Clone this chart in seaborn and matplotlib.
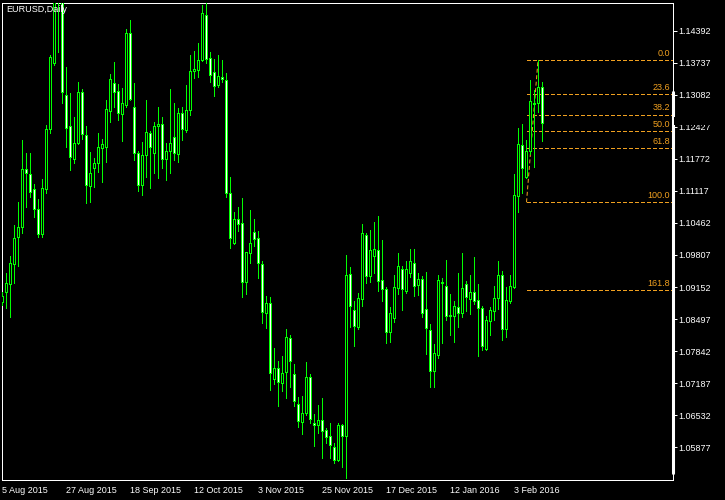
import matplotlib
matplotlib.use("Agg")
import matplotlib.pyplot as plt
import seaborn as sns
from matplotlib.patches import Rectangle
from matplotlib.lines import Line2D

# EURUSD daily bars, 5 Aug 2015 .. 12 Feb 2016
opens = [1.0885, 1.0905, 1.0921, 1.0962, 1.1017, 1.1038, 1.1156, 1.1146, 1.1116, 1.1075,
         1.1024, 1.1116, 1.1238, 1.1373, 1.1615, 1.1518, 1.1308, 1.1244, 1.1177, 1.1210,
         1.1314, 1.1226, 1.1122, 1.1159, 1.1169, 1.1199, 1.1201, 1.1275, 1.1332, 1.1316,
         1.1269, 1.1287, 1.1434, 1.1283, 1.1189, 1.1124, 1.1185, 1.1230, 1.1189, 1.1244,
         1.1248, 1.1177, 1.1193, 1.1222, 1.1187, 1.1271, 1.1236, 1.1277, 1.1357, 1.1359,
         1.1379, 1.1471, 1.1383, 1.1355, 1.1328, 1.1344, 1.1338, 1.1107, 1.1005, 1.1054,
         1.1046, 1.0926, 1.0985, 1.1028, 1.1015, 1.0962, 1.0862, 1.0883, 1.0727, 1.0750,
         1.0719, 1.0742, 1.0811, 1.0738, 1.0676, 1.0639, 1.0658, 1.0731, 1.0637, 1.0633,
         1.0643, 1.0623, 1.0611, 1.0588, 1.0562, 1.0633, 1.0611, 1.0942, 1.0868, 1.0833,
         1.0891, 1.1022, 1.0938, 1.0979, 1.0991, 1.0930, 1.0911, 1.0823, 1.0852, 1.0913,
         1.0952, 1.0907, 1.0944, 1.0964, 1.0919, 1.0932, 1.0870, 1.0827, 1.0744, 1.0776,
         1.0923, 1.0917, 1.0858, 1.0856, 1.0874, 1.0862, 1.0921, 1.0891, 1.0905, 1.0889,
         1.0872, 1.0789, 1.0846, 1.0866, 1.0893, 1.0940, 1.0829, 1.0887, 1.0915, 1.1101,
         1.1205, 1.1140, 1.1193, 1.1291, 1.1291, 1.1324]
highs = [1.0905, 1.0944, 1.0979, 1.1042, 1.1089, 1.1216, 1.1189, 1.1189, 1.1126, 1.1095,
         1.1136, 1.1246, 1.1389, 1.1714, 1.1640, 1.1555, 1.1365, 1.1312, 1.1263, 1.1334,
         1.1320, 1.1244, 1.1191, 1.1179, 1.1230, 1.1218, 1.1297, 1.1351, 1.1375, 1.1330,
         1.1322, 1.1443, 1.1461, 1.1332, 1.1193, 1.1212, 1.1297, 1.1234, 1.1253, 1.1283,
         1.1263, 1.1210, 1.1320, 1.1291, 1.1281, 1.1283, 1.1328, 1.1389, 1.1398, 1.1414,
         1.1492, 1.1496, 1.1396, 1.1381, 1.1389, 1.1379, 1.1353, 1.1140, 1.1069, 1.1079,
         1.1097, 1.0987, 1.1073, 1.1054, 1.1030, 1.0968, 1.0897, 1.0895, 1.0791, 1.0764,
         1.0774, 1.0829, 1.0817, 1.0758, 1.0690, 1.0693, 1.0762, 1.0738, 1.0656, 1.0674,
         1.0688, 1.0627, 1.0637, 1.0596, 1.0637, 1.0635, 1.0981, 1.0956, 1.0887, 1.0903,
         1.1044, 1.1026, 1.1032, 1.1048, 1.1060, 1.1011, 1.0915, 1.0874, 1.0940, 1.0985,
         1.0958, 1.0968, 1.0993, 1.0993, 1.0944, 1.0938, 1.0946, 1.0840, 1.0799, 1.0940,
         1.0934, 1.0970, 1.0901, 1.0887, 1.0944, 1.0985, 1.0928, 1.0940, 1.0977, 1.0921,
         1.0876, 1.0856, 1.0874, 1.0917, 1.0968, 1.0948, 1.0915, 1.0940, 1.1146, 1.1240,
         1.1248, 1.1216, 1.1338, 1.1318, 1.1379, 1.1334]
lows = [1.0878, 1.0872, 1.0854, 1.0923, 1.0958, 1.1026, 1.1079, 1.1099, 1.1058, 1.1017,
        1.1017, 1.1107, 1.1230, 1.1369, 1.1396, 1.1291, 1.1201, 1.1154, 1.1169, 1.1208,
        1.1218, 1.1087, 1.1089, 1.1120, 1.1150, 1.1130, 1.1171, 1.1253, 1.1283, 1.1257,
        1.1214, 1.1283, 1.1297, 1.1175, 1.1111, 1.1103, 1.1140, 1.1118, 1.1148, 1.1138,
        1.1159, 1.1134, 1.1148, 1.1175, 1.1171, 1.1216, 1.1232, 1.1267, 1.1342, 1.1344,
        1.1377, 1.1373, 1.1334, 1.1306, 1.1324, 1.1334, 1.1099, 1.0995, 1.1003, 1.1030,
        1.0895, 1.0901, 1.0964, 1.0999, 1.0934, 1.0841, 1.0831, 1.0705, 1.0717, 1.0672,
        1.0703, 1.0688, 1.0711, 1.0672, 1.0629, 1.0615, 1.0654, 1.0637, 1.0590, 1.0617,
        1.0566, 1.0596, 1.0566, 1.0556, 1.0560, 1.0547, 1.0524, 1.0833, 1.0795, 1.0829,
        1.0876, 1.0923, 1.0926, 1.0944, 1.0907, 1.0887, 1.0801, 1.0803, 1.0844, 1.0901,
        1.0868, 1.0903, 1.0936, 1.0897, 1.0899, 1.0854, 1.0778, 1.0711, 1.0711, 1.0770,
        1.0801, 1.0848, 1.0817, 1.0803, 1.0833, 1.0854, 1.0866, 1.0860, 1.0880, 1.0774,
        1.0787, 1.0787, 1.0817, 1.0848, 1.0870, 1.0807, 1.0813, 1.0883, 1.0913, 1.1069,
        1.1107, 1.1138, 1.1187, 1.1161, 1.1273, 1.1214]
closes = [1.0897, 1.0923, 1.0964, 1.1015, 1.1038, 1.1156, 1.1148, 1.1109, 1.1075, 1.1024,
          1.1118, 1.1238, 1.1385, 1.1615, 1.1520, 1.1314, 1.1240, 1.1181, 1.1210, 1.1314,
          1.1228, 1.1124, 1.1148, 1.1169, 1.1201, 1.1208, 1.1279, 1.1340, 1.1314, 1.1271,
          1.1291, 1.1434, 1.1299, 1.1189, 1.1124, 1.1185, 1.1232, 1.1201, 1.1244, 1.1248,
          1.1177, 1.1193, 1.1210, 1.1189, 1.1271, 1.1238, 1.1277, 1.1357, 1.1361, 1.1379,
          1.1475, 1.1381, 1.1349, 1.1326, 1.1347, 1.1340, 1.1107, 1.1015, 1.1054, 1.1044,
          1.0926, 1.0987, 1.1005, 1.1013, 1.0964, 1.0864, 1.0883, 1.0740, 1.0750, 1.0721,
          1.0740, 1.0813, 1.0764, 1.0682, 1.0641, 1.0658, 1.0731, 1.0645, 1.0633, 1.0643,
          1.0621, 1.0609, 1.0592, 1.0562, 1.0633, 1.0611, 1.0940, 1.0876, 1.0835, 1.0893,
          1.1026, 1.0938, 1.0991, 1.0993, 1.0928, 1.0911, 1.0823, 1.0862, 1.0915, 1.0958,
          1.0911, 1.0952, 1.0968, 1.0917, 1.0932, 1.0862, 1.0831, 1.0744, 1.0780, 1.0930,
          1.0926, 1.0856, 1.0856, 1.0876, 1.0862, 1.0913, 1.0895, 1.0905, 1.0887, 1.0872,
          1.0795, 1.0848, 1.0868, 1.0893, 1.0940, 1.0829, 1.0889, 1.0917, 1.1103, 1.1208,
          1.1159, 1.1193, 1.1295, 1.1289, 1.1324, 1.1250]

date_labels = ["5 Aug 2015", "27 Aug 2015", "18 Sep 2015", "12 Oct 2015", "3 Nov 2015",
               "25 Nov 2015", "17 Dec 2015", "12 Jan 2016", "3 Feb 2016"]
date_bars = [0, 16, 32, 48, 64, 80, 96, 112, 128]
price_ticks = [1.14392, 1.13737, 1.13082, 1.12427, 1.11772, 1.11117, 1.10462,
               1.09807, 1.09152, 1.08497, 1.07842, 1.07187, 1.06532, 1.05877]

# fibonacci retracement drawn from the late Jan low to the Feb high
fib_high = 1.13786
fib_low = 1.10884
fib_levels = [0.0, 23.6, 38.2, 50.0, 61.8, 100.0, 161.8]

GREEN = "#00FF00"
ORANGE = "#F0A020"
W, H = 725, 500
PPX = 0.00020437  # price per pixel on this chart

sns.set_theme(style="dark", rc={"axes.facecolor": "black", "figure.facecolor": "black"})
plt.rcParams["font.family"] = ["Liberation Sans", "DejaVu Sans"]

fig = plt.figure(figsize=(W / 100, H / 100), dpi=100)
left_px, right_px, top_px, bottom_px = 2.3, 672.5, 2.5, 479.5
ax = fig.add_axes([left_px / W, 1 - bottom_px / H, (right_px - left_px) / W, (bottom_px - top_px) / H])
ax.set_facecolor("black")

px = 0.72  # one pixel in points

# candles
for i in range(len(opens)):
    o, h, l, c = opens[i], highs[i], lows[i], closes[i]
    ax.vlines(i, l, h, color=GREEN, lw=px, zorder=3, antialiased=False)
    fill = "white" if c < o else "black"
    ax.add_patch(Rectangle((i - 0.25, min(o, c)), 0.5, abs(c - o), facecolor=fill,
                           edgecolor=GREEN, lw=px, zorder=4, antialiased=False))

# fibonacci
x_start = (526.5 - left_px) / 4
x_top = (538 - left_px) / 4
x_end = (right_px - left_px) / 4
ax.plot([x_start, x_top], [fib_low, fib_high], color=ORANGE, lw=px, ls=(0, (4, 2.5)), zorder=2)
rng = fib_high - fib_low
for lv in fib_levels:
    p = fib_high - lv / 100 * rng
    ax.plot([x_start, x_end], [p, p], color=ORANGE, lw=px, ls=(0, (4, 2.5)), zorder=2,
            antialiased=False, snap=True)
    ax.text((670 - left_px) / 4, p + 2.2 * PPX, f"{lv:.1f}", color=ORANGE,
            fontsize=6.5, ha="right", va="bottom", zorder=5)

ax.set_xlim(0, x_end)
ax.set_ylim(1.15018 - 479.5 * PPX, 1.15018 - 2.5 * PPX)

ax.yaxis.tick_right()
ax.set_yticks(price_ticks)
ax.set_yticklabels([f"{p:.5f}" for p in price_ticks])
ax.set_xticks(date_bars)
ax.set_xticklabels(date_labels, ha="left")
ax.tick_params(axis="y", colors="white", labelcolor="white", labelsize=6.5, length=3,
               width=px, pad=1.2, direction="out")
ax.tick_params(axis="x", colors="white", labelcolor="white", labelsize=6.5, length=3.5,
               width=px, pad=1.2, direction="out")
ax.grid(False)
for s in ax.spines.values():
    s.set_color("white")
    s.set_linewidth(px)
    s.set_visible(True)

fig.text(6.5 / W, 1 - 9.5 / H, "EURUSD,Daily", color="white", fontsize=6.5, ha="left", va="center")

# thick right border part and the hidden top of one price label
fig.add_artist(Line2D([672.5 / W, 672.5 / W], [1 - 92 / H, 1 - 473 / H], color="white", lw=2.2, zorder=6))
fig.add_artist(Rectangle((674 / W, 1 - 125.3 / H), 50 / W, 8 / H, facecolor="black",
                         edgecolor="none", zorder=6))

fig.savefig("out.png", dpi=100, facecolor="black")
